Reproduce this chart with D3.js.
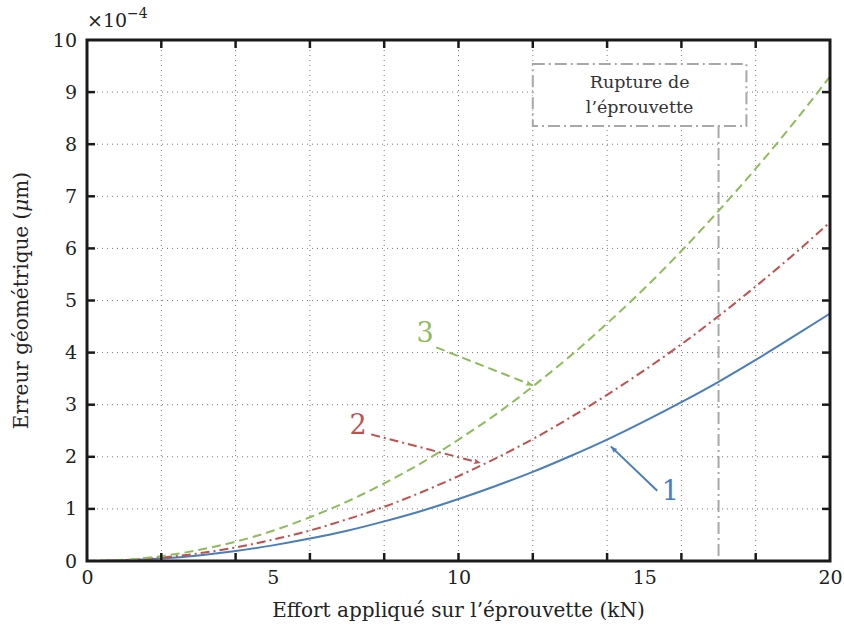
<!DOCTYPE html>
<html><head><meta charset="utf-8">
<script src="https://cdn.jsdelivr.net/npm/d3@7"></script>
<style>body{margin:0;background:#fff}svg{display:block}</style>
</head><body>
<script>
const effort = [0,1,2,3,4,5,6,7,8,9,10,11,12,13,14,15,16,17,18,19,20];
const serie1 = [0,0.012,0.048,0.107,0.19,0.30,0.43,0.58,0.76,0.96,1.19,1.44,1.71,2.01,2.33,2.68,3.05,3.44,3.86,4.30,4.75];
const serie2 = [0,0.016,0.065,0.146,0.26,0.41,0.585,0.80,1.04,1.32,1.63,1.97,2.34,2.75,3.19,3.66,4.16,4.70,5.27,5.87,6.5];
const serie3 = [0,0.023,0.093,0.21,0.37,0.58,0.84,1.14,1.49,1.88,2.33,2.81,3.35,3.93,4.56,5.23,5.95,6.72,7.53,8.39,9.3];
const xTicks = [0,2,4,6,8,10,12,14,16,18,20];
const xLabels = [0,5,10,15,20];
const yTicks = [0,1,2,3,4,5,6,7,8,9,10];
const rupture = 17;

const W=844,H=629;
const m={l:87,r:14,t:40,b:68};
const svg=d3.select("body").append("svg").attr("width",W).attr("height",H);
const x=d3.scaleLinear().domain([0,20]).range([m.l,W-m.r]);
const y=d3.scaleLinear().domain([0,10]).range([H-m.b,m.t]);
const font="'DejaVu Serif', 'Liberation Serif', 'Times New Roman', serif";
const txt="#222";

// grid
const g=svg.append("g");
g.selectAll(".vg").data(xTicks.slice(1,-1)).join("line")
 .attr("x1",d=>x(d)).attr("x2",d=>x(d)).attr("y1",y(0)).attr("y2",y(10))
 .attr("stroke","#777").attr("stroke-width",1).attr("stroke-dasharray","1,4");
g.selectAll(".hg").data(yTicks.slice(1,-1)).join("line")
 .attr("y1",d=>y(d)).attr("y2",d=>y(d)).attr("x1",x(0)).attr("x2",x(20))
 .attr("stroke","#777").attr("stroke-width",1).attr("stroke-dasharray","1,4");

// rupture box and line
const gray="#a8a8a8";
const bx0=x(12.0),bx1=x(17.75),by0=y(9.54),by1=y(8.35);
svg.append("line").attr("x1",x(rupture)).attr("x2",x(rupture)).attr("y1",by1).attr("y2",y(0))
 .attr("stroke",gray).attr("stroke-width",2).attr("stroke-dasharray","12,4,2,4");
svg.append("rect").attr("x",bx0).attr("y",by0).attr("width",bx1-bx0).attr("height",by1-by0)
 .attr("fill","#fff").attr("stroke",gray).attr("stroke-width",2).attr("stroke-dasharray","12,4,2,4");
svg.append("text").attr("x",(bx0+bx1)/2).attr("y",by0+24).attr("text-anchor","middle")
 .attr("font-family",font).attr("font-size",17.5).attr("fill","#333").text("Rupture de");
svg.append("text").attr("x",(bx0+bx1)/2).attr("y",by0+49).attr("text-anchor","middle")
 .attr("font-family",font).attr("font-size",17.5).attr("fill","#333").text("l’éprouvette");

// curves
const cBlue="#4a7ebb",cRed="#c0504d",cGreen="#8fbc5a";
const line=d3.line().x(d=>x(d[0])).y(d=>y(d[1])).curve(d3.curveMonotoneX);
const series=[
 {v:serie1,c:cBlue,dash:null},
 {v:serie2,c:cRed,dash:"9,4,2,4"},
 {v:serie3,c:cGreen,dash:"9,5"}];
series.forEach(s=>{
 svg.append("path").datum(effort.map((e,i)=>[e,s.v[i]])).attr("d",line)
  .attr("fill","none").attr("stroke",s.c).attr("stroke-width",2)
  .attr("stroke-dasharray",s.dash);
});

// annotations
const defs=svg.append("defs");
[["aB",cBlue],["aR",cRed],["aG",cGreen]].forEach(([id,c])=>{
 defs.append("marker").attr("id",id).attr("viewBox","0 0 10 10").attr("refX",10).attr("refY",5)
  .attr("markerWidth",7).attr("markerHeight",7).attr("orient","auto").attr("markerUnits","userSpaceOnUse")
  .append("path").attr("d","M0,1 L10,5 L0,9 L2,5 Z").attr("fill",c);
});
function annot(label,c,lx,ly,x1,y1,x2,y2,dash,mk){
 svg.append("line").attr("x1",x(x1)).attr("y1",y(y1)).attr("x2",x(x2)).attr("y2",y(y2))
  .attr("stroke",c).attr("stroke-width",2).attr("stroke-dasharray",dash).attr("marker-end",`url(#${mk})`);
 svg.append("text").attr("x",x(lx)).attr("y",y(ly)).attr("text-anchor","middle")
  .attr("font-family",font).attr("font-size",27).attr("fill",c).text(label);
}
annot("3",cGreen,9.1,4.2,9.4,4.1,12.0,3.37,"9,5","aG");
annot("2",cRed,7.3,2.43,7.65,2.43,10.6,1.88,"9,4,2,4","aR");
annot("1",cBlue,15.7,1.17,15.35,1.35,14.1,2.2,null,"aB");

// frame
svg.append("rect").attr("x",x(0)).attr("y",y(10)).attr("width",x(20)-x(0)).attr("height",y(0)-y(10))
 .attr("fill","none").attr("stroke","#1a1a1a").attr("stroke-width",3);

// ticks
const tk=8;
xTicks.slice(1,-1).forEach(d=>{
 svg.append("line").attr("x1",x(d)).attr("x2",x(d)).attr("y1",y(0)).attr("y2",y(0)-tk).attr("stroke","#1a1a1a").attr("stroke-width",2.5);
 svg.append("line").attr("x1",x(d)).attr("x2",x(d)).attr("y1",y(10)).attr("y2",y(10)+tk).attr("stroke","#1a1a1a").attr("stroke-width",2.5);
});
yTicks.slice(1,-1).forEach(d=>{
 svg.append("line").attr("y1",y(d)).attr("y2",y(d)).attr("x1",x(0)).attr("x2",x(0)+tk).attr("stroke","#1a1a1a").attr("stroke-width",2.5);
 svg.append("line").attr("y1",y(d)).attr("y2",y(d)).attr("x1",x(20)).attr("x2",x(20)-tk).attr("stroke","#1a1a1a").attr("stroke-width",2.5);
});

// tick labels via axis generators (domain hidden)
const xa=svg.append("g").attr("transform",`translate(0,${y(0)})`)
 .call(d3.axisBottom(x).tickValues(xLabels).tickSize(0).tickPadding(10).tickFormat(d3.format("d")));
const ya=svg.append("g").attr("transform",`translate(${x(0)},0)`)
 .call(d3.axisLeft(y).tickValues(yTicks).tickSize(0).tickPadding(10).tickFormat(d3.format("d")));
[xa,ya].forEach(a=>{a.select(".domain").remove();
 a.selectAll("text").attr("font-family",font).attr("font-size",19).attr("fill",txt);});

// exponent
const ex=svg.append("text").attr("x",x(0)).attr("y",27).attr("font-family",font).attr("font-size",19).attr("fill",txt);
ex.append("tspan").text("×10");
ex.append("tspan").attr("dy",-9).attr("font-size",14).text("−4");

// axis titles
svg.append("text").attr("x",(x(0)+x(20))/2).attr("y",617).attr("text-anchor","middle")
 .attr("font-family",font).attr("font-size",20).attr("fill",txt).text("Effort appliqué sur l’éprouvette (kN)");
const yl=svg.append("text").attr("transform",`translate(28,${(y(0)+y(10))/2}) rotate(-90)`).attr("text-anchor","middle")
 .attr("font-family",font).attr("font-size",20).attr("fill",txt);
yl.append("tspan").text("Erreur géométrique (");
yl.append("tspan").attr("font-style","italic").text("μ");
yl.append("tspan").text("m)");
</script>
</body></html>
